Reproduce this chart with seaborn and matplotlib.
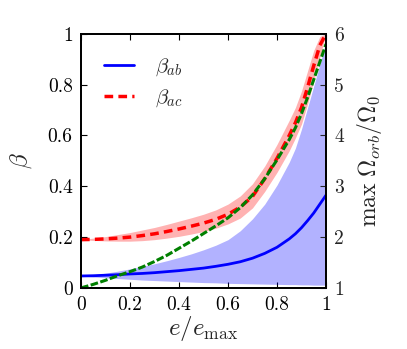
import matplotlib
matplotlib.use("Agg")
import matplotlib.pyplot as plt
import seaborn as sns
from matplotlib.ticker import FuncFormatter

# eccentricity grid (e / e_max)
e_ratio = [0.0, 0.05, 0.1, 0.15, 0.2, 0.25, 0.3, 0.35, 0.4, 0.45, 0.5, 0.55,
           0.6, 0.65, 0.7, 0.75, 0.8, 0.85, 0.875, 0.9, 0.925, 0.95, 0.975, 1.0]

# beta_ab and its spread
beta_ab = [0.047, 0.048, 0.05, 0.052, 0.055, 0.057, 0.06, 0.064, 0.068, 0.073,
           0.078, 0.085, 0.093, 0.103, 0.117, 0.136, 0.16, 0.193, 0.213, 0.237,
           0.265, 0.295, 0.33, 0.365]
beta_ab_lo = [0.047, 0.043, 0.04, 0.037, 0.034, 0.031, 0.029, 0.027, 0.025,
              0.023, 0.021, 0.02, 0.018, 0.017, 0.016, 0.015, 0.014, 0.013,
              0.013, 0.012, 0.012, 0.011, 0.011, 0.011]
beta_ab_hi = [0.047, 0.052, 0.058, 0.066, 0.075, 0.085, 0.095, 0.107, 0.12,
              0.134, 0.15, 0.168, 0.19, 0.225, 0.272, 0.33, 0.405, 0.495,
              0.55, 0.625, 0.71, 0.795, 0.88, 0.97]

# beta_ac and its spread
beta_ac = [0.19, 0.191, 0.193, 0.196, 0.2, 0.206, 0.213, 0.222, 0.232, 0.243,
           0.255, 0.27, 0.29, 0.318, 0.36, 0.43, 0.51, 0.6, 0.65, 0.71, 0.79,
           0.875, 0.955, 1.0]
beta_ac_lo = [0.19, 0.187, 0.185, 0.184, 0.184, 0.186, 0.19, 0.196, 0.203,
              0.212, 0.222, 0.235, 0.252, 0.275, 0.315, 0.38, 0.455, 0.54,
              0.59, 0.645, 0.725, 0.815, 0.91, 1.0]
beta_ac_hi = [0.19, 0.196, 0.202, 0.21, 0.218, 0.228, 0.238, 0.25, 0.263,
              0.276, 0.29, 0.307, 0.33, 0.362, 0.41, 0.48, 0.565, 0.66, 0.71,
              0.775, 0.855, 0.935, 0.99, 1.0]

# max orbital frequency (right axis)
omega_max = [1.0, 1.07, 1.15, 1.24, 1.32, 1.41, 1.52, 1.64, 1.78, 1.92, 2.07,
             2.22, 2.38, 2.58, 2.83, 3.15, 3.52, 3.92, 4.15, 4.43, 4.75, 5.1,
             5.45, 5.8]

sns.set_style("ticks")
plt.rcParams["font.family"] = "serif"
plt.rcParams["font.serif"] = ["cmr10", "DejaVu Serif"]
plt.rcParams["mathtext.fontset"] = "cm"
plt.rcParams["axes.formatter.use_mathtext"] = True
plt.rcParams["axes.unicode_minus"] = False

fig = plt.figure(figsize=(4.07, 3.49), dpi=100)
ax = fig.add_axes([0.199, 0.175, 0.602, 0.728])
ax2 = ax.twinx()

ax.fill_between(e_ratio, beta_ab_lo, beta_ab_hi, color="blue", alpha=0.3, lw=0)
ax.fill_between(e_ratio, beta_ac_lo, beta_ac_hi, color="red", alpha=0.3, lw=0)
sns.lineplot(x=e_ratio, y=beta_ab, ax=ax, color="blue", lw=2,
             label=r"$\beta_{ab}$")
sns.lineplot(x=e_ratio, y=beta_ac, ax=ax, color="red", lw=2.5,
             linestyle=(0, (2.5, 1.5)), label=r"$\beta_{ac}$")
sns.lineplot(x=e_ratio, y=omega_max, ax=ax2, color="green", lw=2.2,
             linestyle=(0, (2.5, 0.8)))

ax.set_xlim(0, 1)
ax.set_ylim(0, 1)
ax2.set_ylim(1, 6)
ax.set_xticks([0, 0.2, 0.4, 0.6, 0.8, 1.0])
ax.set_yticks([0, 0.2, 0.4, 0.6, 0.8, 1.0])
ax2.set_yticks([1, 2, 3, 4, 5, 6])
fmt = FuncFormatter(lambda v, p: "%g" % v)
ax.xaxis.set_major_formatter(fmt)
ax.yaxis.set_major_formatter(fmt)
ax2.yaxis.set_major_formatter(fmt)

ax.tick_params(direction="in", top=True, right=False, labelsize=14,
               length=4, width=0.8, pad=6, colors="black")
ax2.tick_params(direction="in", labelsize=14, length=4, width=0.8, pad=6)
for a in (ax, ax2):
    for s in a.spines.values():
        s.set_linewidth(1.3)
        s.set_color("black")

ax.set_xlabel(r"$e/e_{\max}$", fontsize=18, labelpad=0)
ax.set_ylabel(r"$\beta$", fontsize=18, labelpad=10)
ax2.set_ylabel(r"$\max\ \Omega_{orb}/\Omega_0$", fontsize=17, labelpad=8)

ax.legend(loc="upper left", frameon=False, fontsize=15, handlelength=1.45,
          labelspacing=0.45, borderaxespad=0.7, handletextpad=1.0)

fig.savefig("out.png", dpi=100)
